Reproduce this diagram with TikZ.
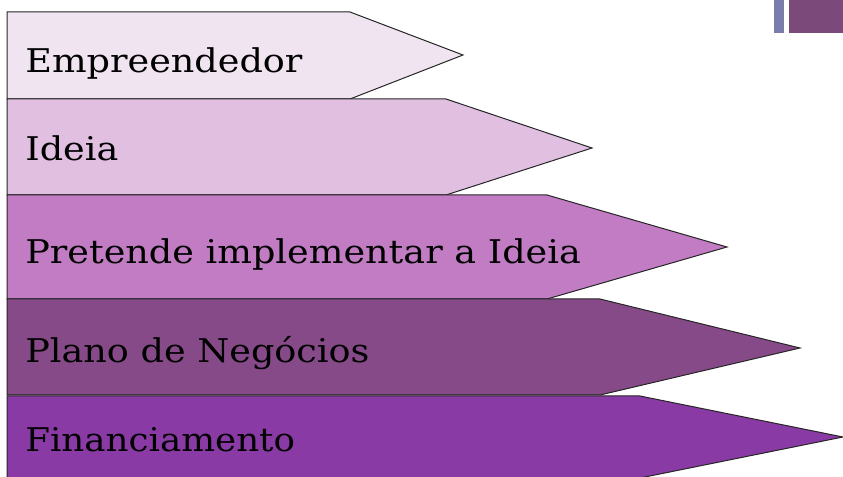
\documentclass[tikz,border=0pt]{standalone}
\usepackage{fontspec}
\setmainfont{DejaVu Serif}
\usepackage{tikz}
\usetikzlibrary{shapes}
\usepackage{xcolor}
\definecolor{bandA}{HTML}{F1E4F1}
\definecolor{bandB}{HTML}{E0BFE1}
\definecolor{bandC}{HTML}{C17CC4}
\definecolor{bandD}{HTML}{864A89}
\definecolor{bandE}{HTML}{8A3AA5}
\definecolor{barblue}{HTML}{7A7DAB}
\definecolor{barpurple}{HTML}{7B4A7A}
\begin{document}
\begin{tikzpicture}[x=0.75pt,y=-0.75pt]
\tikzstyle{every node}+=[inner sep=0pt]
\tikzstyle{band}=[draw=black!85, line width=0.75pt]
\tikzstyle{label}=[anchor=base west, xscale=1.12, transform shape, font=\fontsize{24.5}{29}\selectfont, text=black]
\useasboundingbox (0,0) rectangle (843,477);
\fill [barblue] (774,0) rectangle (784,33);
\fill [barpurple] (789,0) rectangle (843,33);
\draw [band, fill=bandA] (7,12) -- (350,12) -- (463,55) -- (350,99) -- (7,99) -- cycle;
\draw [band, fill=bandB] (7,99) -- (446,99) -- (592,148) -- (446,195) -- (7,195) -- cycle;
\draw [band, fill=bandC] (7,195) -- (547,195) -- (727,247) -- (547,299) -- (7,299) -- cycle;
\draw [band, fill=bandD] (7,299) -- (600,299) -- (800,348) -- (600,395) -- (7,395) -- cycle;
\draw [band, fill=bandE] (7,396) -- (640,396) -- (843,437) -- (640,478) -- (7,478) -- cycle;
\node [label] (empreendedor) at (25,73) {Empreendedor};
\node [label] (ideia) at (25,161) {Ideia};
\node [label] (pretende) at (25,264) {Pretende implementar a Ideia};
\node [label] (plano) at (25,363) {Plano de Negócios};
\node [label, xscale=0.975] (financiamento) at (25,451) {Financiamento};
\end{tikzpicture}
\end{document}
